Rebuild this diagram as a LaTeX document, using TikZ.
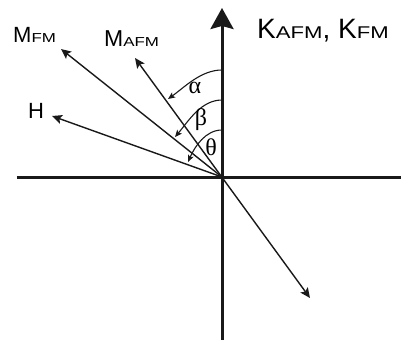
\documentclass[tikz,border=0pt]{standalone}
\usepackage{fontspec}
\setmainfont{Liberation Sans}
\newfontfamily\greekfont{Liberation Serif}
\usetikzlibrary{arrows.meta}
\newcommand{\bigsub}[2]{{\fontsize{#1}{#1}\selectfont #2}}
\newcommand{\subtxt}[2]{{\fontsize{#1}{#1}\selectfont\scalebox{1.3}[1]{#2}}}
\begin{document}
\begin{tikzpicture}[x=1pt,y=1pt,
  axis/.style={line width=3pt, color=black!90},
  vec/.style={line width=1.4pt, color=black!90},
  angarc/.style={line width=1.1pt, color=black!90, -{Stealth[length=7pt,width=6pt,inset=1.5pt]}},
  greek/.style={font=\greekfont\fontsize{24}{24}\selectfont, inner sep=0pt},
  txt/.style={inner sep=0pt, anchor=base west}]
\useasboundingbox (-222,-163) rectangle (179,177);
% axes
\coordinate (O) at (0,0);
\coordinate (yb) at (0,-163);
\coordinate (yt) at (0,169);
\coordinate (xl) at (-205,0);
\coordinate (xr) at (179,0);
\draw[axis] (xl) -- (xr);
\draw[axis, -{Stealth[length=21pt,width=23pt,inset=3pt]}] (yb) -- (yt);
% vectors
\coordinate (mfm) at (-161,128);
\coordinate (mafmU) at (-87,119);
\coordinate (mafmL) at (88,-121);
\coordinate (h) at (-170,61);
\draw[vec, -{Stealth[length=10pt,width=9pt,inset=2pt]}] (O) -- (mfm);
\draw[vec, -{Stealth[length=10pt,width=9pt,inset=2pt]}] (O) -- (h);
\draw[vec, {Stealth[length=10pt,width=9pt,inset=2pt]}-{Stealth[length=10pt,width=9pt,inset=2pt]}] (mafmL) -- (mafmU);
% angle arcs
\coordinate (a0) at (0,107);
\coordinate (a1) at (-54,78);
\coordinate (b0) at (0,77);
\coordinate (b1) at (-47,40);
\coordinate (t0) at (0,47);
\coordinate (t1) at (-34,15);
\draw[angarc] (a0) .. controls (-21,107) and (-37.7,89.6) .. (a1);
\draw[angarc] (b0) .. controls (-21,77) and (-33.6,55.8) .. (b1);
\draw[angarc] (t0) .. controls (-16.6,47) and (-27.3,30.2) .. (t1);
\node[greek] (alpha) at (-27,89) {α};
\node[greek] (beta) at (-21,57) {β};
\node[greek] (theta) at (-11,30) {θ};
% labels
\node[txt] (lmfm) at (-209,134) {\bigsub{22}{M}\subtxt{13}{FM}};
\node[txt] (lmafm) at (-118,130) {\bigsub{23}{M}\subtxt{13}{AFM}};
\node[txt] (lh) at (-194,59) {\bigsub{22}{H}};
\node[txt] (lk) at (35,138) {\bigsub{28}{K}\subtxt{17}{AFM}\bigsub{28}{, K}\subtxt{17}{FM}};
\end{tikzpicture}
\end{document}
